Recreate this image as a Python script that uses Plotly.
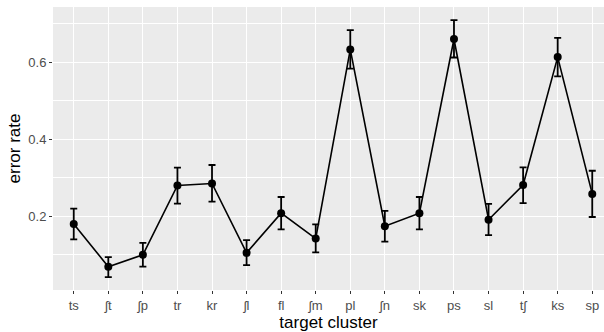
import plotly.graph_objects as go

clusters = ["ts", "ʃt", "ʃp", "tr", "kr", "ʃl", "fl", "ʃm", "pl", "ʃn", "sk", "ps", "sl", "tʃ", "ks", "sp"]
error_rate = [0.180, 0.069, 0.100, 0.280, 0.285, 0.105, 0.208, 0.142, 0.633, 0.174, 0.208, 0.660, 0.191, 0.281, 0.613, 0.258]
upper = [0.220, 0.094, 0.131, 0.326, 0.333, 0.138, 0.250, 0.179, 0.683, 0.214, 0.250, 0.709, 0.232, 0.327, 0.663, 0.318]
lower = [0.140, 0.042, 0.069, 0.233, 0.238, 0.073, 0.166, 0.106, 0.583, 0.134, 0.166, 0.612, 0.151, 0.234, 0.563, 0.198]

err_plus = [u - v for u, v in zip(upper, error_rate)]
err_minus = [v - l for v, l in zip(error_rate, lower)]
xidx = list(range(len(clusters)))

fig = go.Figure()
fig.add_trace(go.Scatter(
    x=xidx, y=error_rate, mode="lines+markers",
    line=dict(color="black", width=1.6),
    marker=dict(color="black", size=8),
    error_y=dict(type="data", symmetric=False, array=err_plus, arrayminus=err_minus,
                 color="black", thickness=1.8, width=3.5),
    showlegend=False,
))

fig.update_layout(
    width=604, height=332,
    margin=dict(l=53, r=0, t=7, b=42),
    paper_bgcolor="white", plot_bgcolor="#EBEBEB",
    font=dict(family="Liberation Sans, Arial, sans-serif"),
    xaxis=dict(
        range=[-0.6, 15.34], tickmode="array", tickvals=xidx, ticktext=clusters,
        showgrid=True, gridcolor="white", gridwidth=1.1, zeroline=False,
        ticks="outside", ticklen=3, tickwidth=1, tickcolor="#333333",
        tickfont=dict(size=13, color="#4D4D4D"),
        title=dict(text="target cluster", font=dict(size=17, color="black"), standoff=2),
    ),
    yaxis=dict(
        range=[0.0086, 0.743], tickmode="array", tickvals=[0.2, 0.4, 0.6],
        ticktext=["0.2", "0.4", "0.6"],
        showgrid=True, gridcolor="white", gridwidth=1.1, zeroline=False,
        minor=dict(tickmode="array", tickvals=[0.1, 0.3, 0.5, 0.7], showgrid=True,
                   gridcolor="white", gridwidth=0.5, ticks=""),
        ticks="outside", ticklen=3, tickwidth=1, tickcolor="#333333",
        tickfont=dict(size=13, color="#4D4D4D"),
        title=dict(text="error rate", font=dict(size=17, color="black"), standoff=3),
    ),
)

fig.write_html("out.html")
